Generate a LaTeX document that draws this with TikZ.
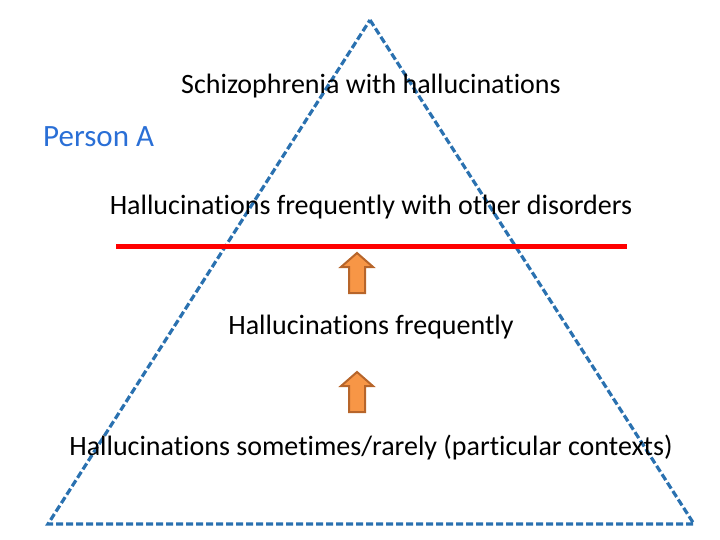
\documentclass[tikz,border=0pt]{standalone}
\usepackage{fontspec}
\setmainfont[Ligatures=NoCommon]{Carlito}
\definecolor{triblue}{HTML}{2A71B0}
\definecolor{persblue}{HTML}{2A6FD6}
\definecolor{arrfill}{HTML}{F79646}
\definecolor{arrdraw}{HTML}{B7652A}
\tikzset{
  lbl/.style={font=\fontsize{28}{32}\selectfont, inner sep=0pt, anchor=center},
  upar/.style={fill=arrfill, draw=arrdraw, line width=2pt, line join=miter}
}
\begin{document}
\begin{tikzpicture}[x=1pt,y=-1pt]
\useasboundingbox (0,0) rectangle (720,540);
% triangle
\coordinate (apex) at (370,20);
\coordinate (bl) at (48,524);
\coordinate (br) at (694,524);
\draw[triblue, line width=3.2pt, dash pattern=on 7pt off 3pt] (apex) -- (br) -- (bl) -- cycle;
% red line
\coordinate (rl) at (116,246);
\coordinate (rr) at (627,246);
\draw[red, line width=5pt] (rl) -- (rr);
% arrows
\foreach \t/\nm in {253/a1,372/a2}{
  \draw[upar] (357,\t) -- (373,\t+14) -- (365,\t+14) -- (365,\t+40) -- (349,\t+40) -- (349,\t+14) -- (341,\t+14) -- cycle;
}
% texts
\node[lbl] (t1) at (371,86) {Schizophrenia with hallucinations};
\node[lbl, text=persblue, anchor=west, font=\fontsize{31}{36}\selectfont] (pa) at (43,137) {Person A};
\node[lbl] (t2) at (371,207) {Hallucinations frequently with other disorders};
\node[lbl] (t3) at (371,327) {Hallucinations frequently};
\node[lbl] (t4) at (371,448) {Hallucinations sometimes/rarely (particular contexts)};
\end{tikzpicture}
\end{document}
